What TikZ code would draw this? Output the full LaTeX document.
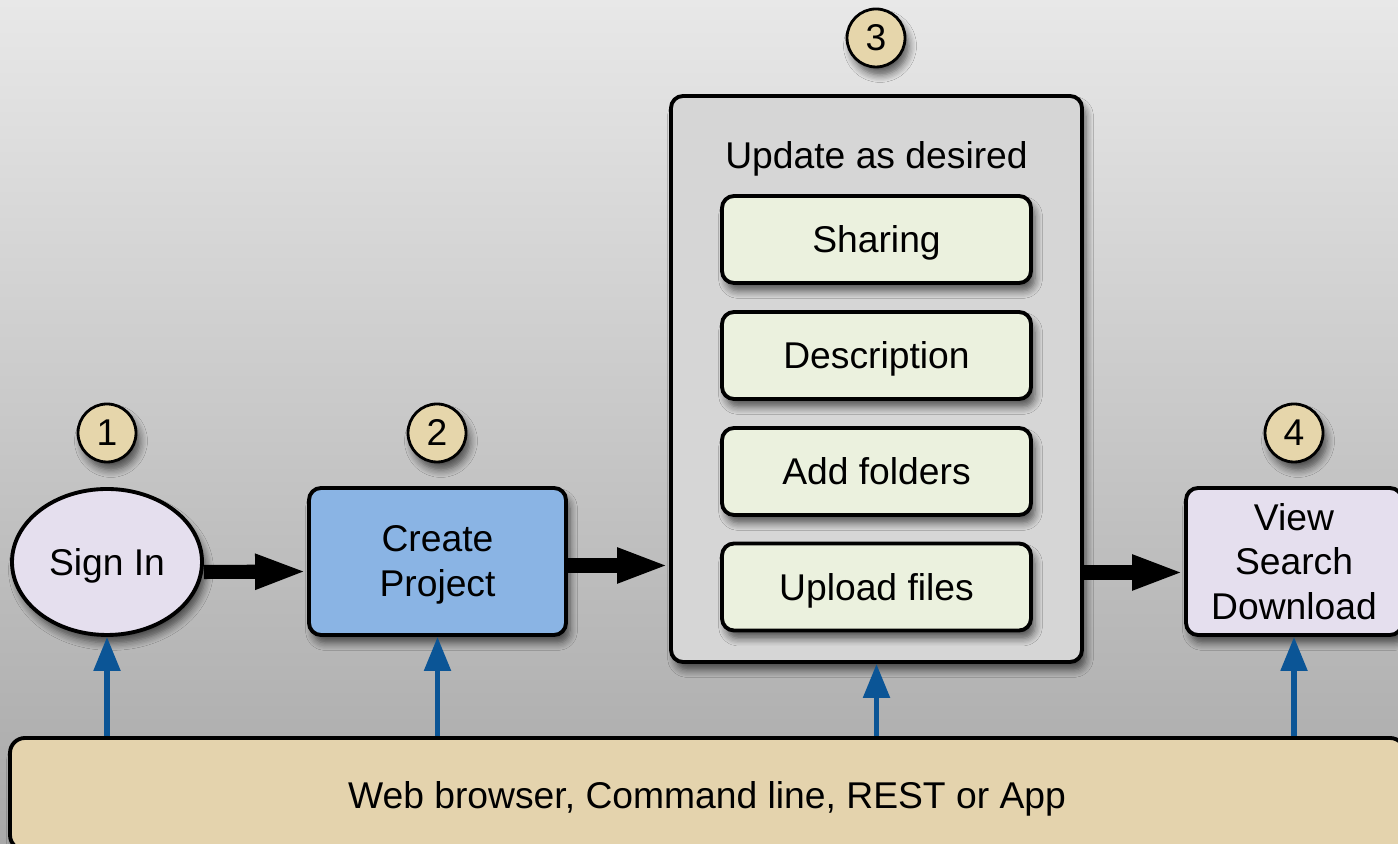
\documentclass[tikz,border=0pt]{standalone}
\usepackage{fontspec}
\setmainfont{Liberation Sans}
\usetikzlibrary{arrows.meta,shadows.blur,shapes.geometric}

\definecolor{bgtop}{RGB}{232,232,232}
\definecolor{bgbottom}{RGB}{168,168,168}
\definecolor{numfill}{RGB}{230,214,171}
\definecolor{barfill}{RGB}{228,211,173}
\definecolor{signfill}{RGB}{229,223,238}
\definecolor{createfill}{RGB}{138,180,228}
\definecolor{updatefill}{RGB}{214,214,214}
\definecolor{innerfill}{RGB}{235,241,222}
\definecolor{apiblue}{RGB}{11,85,150}

\begin{document}
\begin{tikzpicture}[
	font=\fontsize{10.6}{12.8}\selectfont,
	softshadow/.style={blur shadow={shadow xshift=0.04cm, shadow yshift=-0.08cm, shadow blur steps=6, shadow opacity=60}},
	numcircle/.style={circle, draw=black, line width=0.8pt, fill=numfill, minimum size=0.58cm, inner sep=0pt, softshadow},
	stepbox/.style={rectangle, rounded corners=0.12cm, draw=black, line width=1.1pt, inner sep=0pt, text depth=0pt, align=center, softshadow},
	innerbox/.style={stepbox, fill=innerfill, minimum width=3.09cm, minimum height=0.87cm},
	bigarrow/.style={line width=4pt, -{Triangle[length=0.52cm, width=0.32cm]}},
	apiarrow/.style={apiblue, line width=1.5pt, -{Triangle[length=0.34cm, width=0.26cm]}}
]
	
	\useasboundingbox (0,0) rectangle (13.98,8.44);
	\shade[top color=bgtop, bottom color=bgbottom] (0,0) rectangle (13.98,8.44);
	
	% numbers
	\node[numcircle] (num1) at (1.07, 4.11) {1};
	\node[numcircle] (num2) at (4.37, 4.11) {2};
	\node[numcircle] (num3) at (8.76, 8.06) {3};
	\node[numcircle] (num4) at (12.94, 4.11) {4};
	
	% steps
	\node[ellipse, draw=black, line width=1.1pt, fill=signfill, minimum width=1.9cm, minimum height=1.46cm, inner sep=0pt, text depth=0pt, softshadow] (signin) at (1.07, 2.82) {Sign In};
	\node[stepbox, fill=createfill, minimum width=2.57cm, minimum height=1.47cm] (create) at (4.375, 2.825) {Create\\Project};
	\node[stepbox, fill=updatefill, minimum width=4.11cm, minimum height=5.66cm] (update) at (8.765, 4.65) {};
	\node[text depth=0pt] (updatetitle) at (8.765, 6.89) {Update as desired};
	\node[innerbox] (sharing) at (8.765, 6.045) {Sharing};
	\node[innerbox] (descr) at (8.765, 4.885) {Description};
	\node[innerbox] (folders) at (8.765, 3.725) {Add folders};
	\node[innerbox] (upload) at (8.765, 2.57) {Upload files};
	\node[stepbox, fill=signfill, minimum width=2.16cm, minimum height=1.47cm] (view) at (12.94, 2.825) {View\\Search\\Download};
	
	% access bar
	\node[stepbox, fill=barfill, minimum width=13.95cm, minimum height=1.12cm, rounded corners=0.15cm] (bar) at (7.075, 0.50) {};
	\node[text depth=0pt] (bartext) at (7.07, 0.49) {Web browser, Command line, REST or App};
	
	% flow
	\draw[bigarrow] ([yshift=-0.1cm]signin.east) -- ([yshift=-0.1cm]create.west);
	\draw[bigarrow] ([yshift=-0.04cm]create.east) -- ([yshift=-0.04cm]create.east -| update.west);
	\draw[bigarrow] ([yshift=-0.11cm]view.west -| update.east) -- ([yshift=-0.11cm]view.west);
	
	\draw[apiarrow] (signin.south |- bar.north) -- (signin.south);
	\draw[apiarrow] (create.south |- bar.north) -- (create.south);
	\draw[apiarrow] (update.south |- bar.north) -- (update.south);
	\draw[apiarrow] (view.south |- bar.north) -- (view.south);
	
\end{tikzpicture}
\end{document}
